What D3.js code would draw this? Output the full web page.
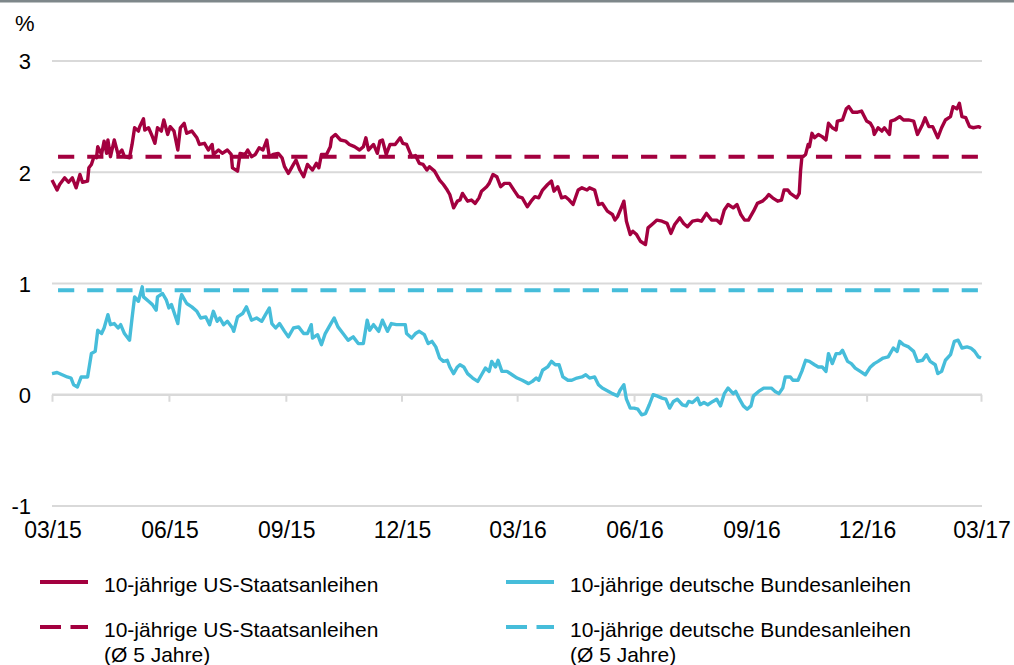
<!DOCTYPE html>
<html>
<head>
<meta charset="utf-8">
<script src="https://cdn.jsdelivr.net/npm/d3@7"></script>
<style>
  html, body { margin: 0; padding: 0; background: #fff; }
  svg { display: block; font-family: "Liberation Sans", Arial, sans-serif; }
</style>
</head>
<body>
<svg id="chart" width="1014" height="665"></svg>
<script>
// ---------- data ----------
const startDate = "2015-03-01";
const endDate = "2017-03-01";
const xTickLabels = ["03/15", "06/15", "09/15", "12/15", "03/16", "06/16", "09/16", "12/16", "03/17"];
const yTicks = [-1, 0, 1, 2, 3];
const seriesNames = ["10-jährige US-Staatsanleihen", "10-jährige deutsche Bundesanleihen"];
const avgNames = ["10-jährige US-Staatsanleihen", "10-jährige deutsche Bundesanleihen"];
const avgSuffix = "(Ø 5 Jahre)";

// day offsets since start date
const usDays = [0,4,6,10,13,16,19,22,24,28,29,31,33,35,36,39,41,43,44,46,49,52,55,57,61,63,65,68,69,72,73,76,79,81,83,86,88,91,93,96,99,101,104,106,110,114,116,120,123,126,127,131,134,138,141,142,146,148,152,154,157,160,163,166,169,171,174,178,181,183,186,190,192,195,198,201,205,208,210,212,216,219,220,223,227,231,234,238,242,245,247,249,253,256,258,260,263,266,270,274,276,279,283,286,289,292,295,297,301,305,308,311,313,316,319,321,323,327,330,333,336,338,342,344,347,350,353,356,360,364,367,370,374,377,380,383,386,390,393,395,398,401,404,407,410,414,417,421,423,427,430,433,437,441,443,445,449,450,452,455,457,460,463,467,469,473,476,480,484,487,490,494,497,500,504,508,511,515,519,523,526,529,532,536,539,542,545,548,552,555,559,562,564,567,571,574,576,579,581,586,588,589,590,593,595,596,598,600,603,606,609,611,614,617,618,622,625,627,630,634,637,641,644,646,647,650,653,655,659,660,663,667,670,674,678,681,685,687,690,693,697,700,703,707,709,712,714,716,719,722,725,729,731];
const usValues = [1.93,1.84,1.89,1.95,1.91,1.95,1.86,1.98,1.91,1.92,2.04,2.07,2.14,2.13,2.23,2.16,2.28,2.17,2.29,2.14,2.29,2.16,2.20,2.14,2.13,2.25,2.40,2.37,2.41,2.48,2.38,2.40,2.32,2.26,2.40,2.37,2.47,2.34,2.41,2.37,2.20,2.40,2.44,2.35,2.37,2.31,2.25,2.26,2.20,2.25,2.16,2.20,2.17,2.20,2.16,2.04,2.01,2.17,2.16,2.20,2.14,2.16,2.22,2.20,2.29,2.14,2.16,2.17,2.13,2.05,1.99,2.07,2.11,2.02,1.96,2.07,2.02,2.08,2.04,2.16,2.16,2.23,2.31,2.34,2.29,2.28,2.25,2.23,2.20,2.23,2.31,2.20,2.25,2.17,2.28,2.29,2.16,2.25,2.25,2.31,2.26,2.25,2.14,2.15,2.08,2.07,2.02,2.05,2.01,1.93,1.89,1.84,1.80,1.68,1.74,1.75,1.81,1.74,1.75,1.72,1.77,1.83,1.87,1.90,1.98,1.96,1.87,1.90,1.90,1.83,1.78,1.77,1.69,1.74,1.78,1.77,1.84,1.89,1.92,1.83,1.87,1.77,1.78,1.75,1.71,1.84,1.86,1.84,1.86,1.84,1.71,1.72,1.65,1.62,1.57,1.60,1.71,1.74,1.56,1.44,1.47,1.44,1.38,1.35,1.50,1.54,1.57,1.56,1.54,1.45,1.53,1.59,1.54,1.51,1.56,1.57,1.56,1.63,1.57,1.57,1.54,1.66,1.71,1.68,1.71,1.62,1.57,1.57,1.65,1.72,1.74,1.77,1.80,1.77,1.74,1.75,1.84,1.84,1.81,1.77,1.81,2.01,2.13,2.16,2.25,2.23,2.35,2.31,2.34,2.32,2.29,2.44,2.40,2.38,2.46,2.47,2.57,2.59,2.54,2.54,2.55,2.46,2.44,2.40,2.34,2.40,2.37,2.40,2.34,2.46,2.47,2.50,2.47,2.47,2.46,2.34,2.43,2.49,2.41,2.41,2.31,2.40,2.47,2.50,2.59,2.57,2.62,2.50,2.49,2.41,2.40,2.41,2.40];

const deDays = [0,4,8,12,15,17,20,23,26,28,31,34,36,39,41,44,46,49,52,54,57,61,63,65,68,71,72,76,79,82,83,87,90,92,94,99,101,102,106,110,114,117,121,124,127,130,132,135,138,142,143,146,150,153,157,161,165,168,171,173,176,179,183,186,190,194,198,201,204,205,209,212,215,219,222,225,229,233,237,241,245,248,250,253,257,260,264,267,271,275,278,279,283,286,289,293,296,299,302,305,308,311,313,316,319,321,324,327,331,335,338,341,344,346,349,351,354,358,362,366,370,375,378,381,383,386,390,393,396,399,402,406,409,413,417,420,423,427,430,433,438,441,445,447,450,452,455,458,461,464,467,470,473,476,480,483,486,489,492,496,499,501,504,508,510,513,516,520,523,526,529,532,536,538,541,544,547,550,552,556,560,563,566,569,572,575,577,581,583,587,590,593,596,600,603,606,609,611,614,617,620,622,626,629,632,636,640,644,647,650,654,658,662,665,667,670,674,678,681,685,688,691,695,697,700,703,707,710,713,716,720,723,726,729,731];
const deValues = [0.19,0.20,0.18,0.16,0.15,0.09,0.07,0.16,0.16,0.16,0.37,0.39,0.58,0.55,0.60,0.72,0.63,0.64,0.60,0.63,0.55,0.49,0.69,0.88,0.84,0.97,0.88,0.84,0.81,0.76,0.88,0.91,0.85,0.78,0.81,0.64,0.85,0.90,0.82,0.79,0.75,0.69,0.70,0.63,0.75,0.66,0.69,0.63,0.66,0.60,0.57,0.70,0.73,0.79,0.67,0.69,0.66,0.72,0.78,0.64,0.60,0.64,0.57,0.52,0.60,0.61,0.55,0.55,0.63,0.51,0.54,0.45,0.55,0.63,0.69,0.61,0.55,0.49,0.52,0.46,0.46,0.67,0.58,0.63,0.57,0.67,0.57,0.64,0.63,0.63,0.63,0.55,0.51,0.55,0.57,0.54,0.46,0.48,0.43,0.33,0.30,0.31,0.25,0.19,0.25,0.27,0.25,0.19,0.15,0.12,0.18,0.24,0.21,0.30,0.25,0.31,0.21,0.21,0.18,0.15,0.13,0.10,0.12,0.15,0.13,0.22,0.25,0.30,0.27,0.27,0.16,0.13,0.13,0.15,0.16,0.18,0.15,0.16,0.09,0.06,0.03,0.01,-0.01,0.04,0.09,-0.04,-0.12,-0.12,-0.13,-0.18,-0.17,-0.09,0.00,-0.01,-0.03,-0.04,-0.12,-0.06,-0.04,-0.09,-0.10,-0.06,-0.07,-0.03,-0.09,-0.07,-0.09,-0.06,-0.04,-0.10,0.01,0.06,0.01,0.03,-0.04,-0.10,-0.13,-0.10,-0.01,0.03,0.06,0.06,0.06,0.03,0.01,0.06,0.16,0.16,0.13,0.13,0.21,0.31,0.30,0.27,0.25,0.25,0.21,0.37,0.28,0.37,0.37,0.40,0.30,0.28,0.24,0.21,0.18,0.25,0.28,0.30,0.33,0.34,0.42,0.39,0.48,0.45,0.43,0.39,0.30,0.31,0.36,0.30,0.27,0.19,0.21,0.31,0.36,0.48,0.49,0.42,0.43,0.42,0.39,0.34,0.33];

const usAvg = 2.14;
const deAvg = 0.94;

// ---------- styles ----------
const usColor = "#A3003F";
const deColor = "#46BDDA";
const gridColor = "#D9D9D9";
const fontSize = 21;
const axisFontSize = 23;

// ---------- chart ----------
const svg = d3.select("#chart");
const parse = d3.utcParse("%Y-%m-%d");
const t0 = parse(startDate), t1 = parse(endDate);

const x = d3.scaleUtc().domain([t0, t1]).range([52, 981]);
const y = d3.scaleLinear().domain([-1, 3]).range([506, 61]);

// top bar
svg.append("rect").attr("x", 0).attr("y", 0).attr("width", 1014).attr("height", 2.5).attr("fill", "#7E878A");

// gridlines + y labels
const yAxis = d3.axisLeft(y).tickValues(yTicks).tickSize(0).tickPadding(0).tickFormat(d => String(d));
const gy = svg.append("g").attr("transform", "translate(31,0)").call(yAxis);
gy.select(".domain").remove();
gy.attr("font-family", null);
gy.selectAll("text").attr("font-size", 22).attr("fill", "#000").attr("dy", "0.36em").attr("x", 0);

svg.append("g").selectAll("line").data(yTicks.filter(d => d !== 0)).join("line")
  .attr("x1", x(t0)).attr("x2", x(t1) + 1)
  .attr("y1", d => y(d)).attr("y2", d => y(d))
  .attr("stroke", gridColor).attr("stroke-width", 2);

// x axis at 0
const tickDates = xTickLabels.map((_, i) => d3.utcMonth.offset(t0, 3 * i));
const xAxis = d3.axisBottom(x).tickValues(tickDates).tickSize(7).tickSizeOuter(0)
  .tickFormat((d, i) => xTickLabels[i]);
const gx = svg.append("g").attr("transform", `translate(0,${y(0)})`).call(xAxis);
gx.select(".domain").attr("stroke", gridColor).attr("stroke-width", 2.5)
  .attr("d", `M${x(t0)},0H${x(t1) + 1}`);
gx.selectAll(".tick line").attr("stroke", gridColor).attr("stroke-width", 2);
gx.selectAll(".tick text").remove();

// x labels below plot
svg.append("g").selectAll("text").data(tickDates).join("text")
  .attr("x", d => x(d) + 1).attr("y", 538)
  .attr("text-anchor", "middle").attr("font-size", axisFontSize).attr("fill", "#000")
  .text((d, i) => xTickLabels[i]);

// % label
svg.append("text").attr("x", 15).attr("y", 31).attr("font-size", 22).attr("fill", "#000").text("%");

// series
const mk = (days, vals) => days.map((d, i) => ({ date: d3.utcDay.offset(t0, d), v: vals[i] }));
const line = d3.line().x(d => x(d.date)).y(d => y(d.v)).curve(d3.curveLinear);

const us = mk(usDays, usValues);
const de = mk(deDays, deValues);

// average dashed lines
const avgData = [
  { v: usAvg, color: usColor },
  { v: deAvg, color: deColor }
];
svg.append("g").selectAll("path").data(avgData).join("path")
  .attr("d", d => line([{ date: t0, v: d.v }, { date: t1, v: d.v }]))
  .attr("fill", "none").attr("stroke", d => d.color).attr("stroke-width", 4)
  .attr("stroke-dasharray", "16.2,12.95").attr("stroke-dashoffset", 23.1);

svg.append("path").datum(de).attr("d", line).attr("fill", "none")
  .attr("stroke", deColor).attr("stroke-width", 3.4).attr("stroke-linejoin", "round");
svg.append("path").datum(us).attr("d", line).attr("fill", "none")
  .attr("stroke", usColor).attr("stroke-width", 3.4).attr("stroke-linejoin", "round");

// legend
const legendItems = [
  { name: seriesNames[0], color: usColor, dash: null, lx: 40, ly: 582 },
  { name: seriesNames[1], color: deColor, dash: null, lx: 506, ly: 582 },
  { name: avgNames[0], sub: avgSuffix, color: usColor, dash: "21,9.5", lx: 40, ly: 627 },
  { name: avgNames[1], sub: avgSuffix, color: deColor, dash: "21,9.5", lx: 506, ly: 627 }
];
const lg = svg.append("g").selectAll("g").data(legendItems).join("g");
lg.append("line")
  .attr("x1", d => d.lx).attr("x2", d => d.lx + 48)
  .attr("y1", d => d.ly).attr("y2", d => d.ly)
  .attr("stroke", d => d.color).attr("stroke-width", 4)
  .attr("stroke-dasharray", d => d.dash);
lg.append("text")
  .attr("x", d => d.lx + 64).attr("y", d => d.ly + 10)
  .attr("font-size", fontSize).attr("fill", "#000")
  .text(d => d.name);
lg.filter(d => d.sub).append("text")
  .attr("x", d => d.lx + 64).attr("y", d => d.ly + 35)
  .attr("font-size", fontSize).attr("fill", "#000")
  .text(d => d.sub);
</script>
</body>
</html>
